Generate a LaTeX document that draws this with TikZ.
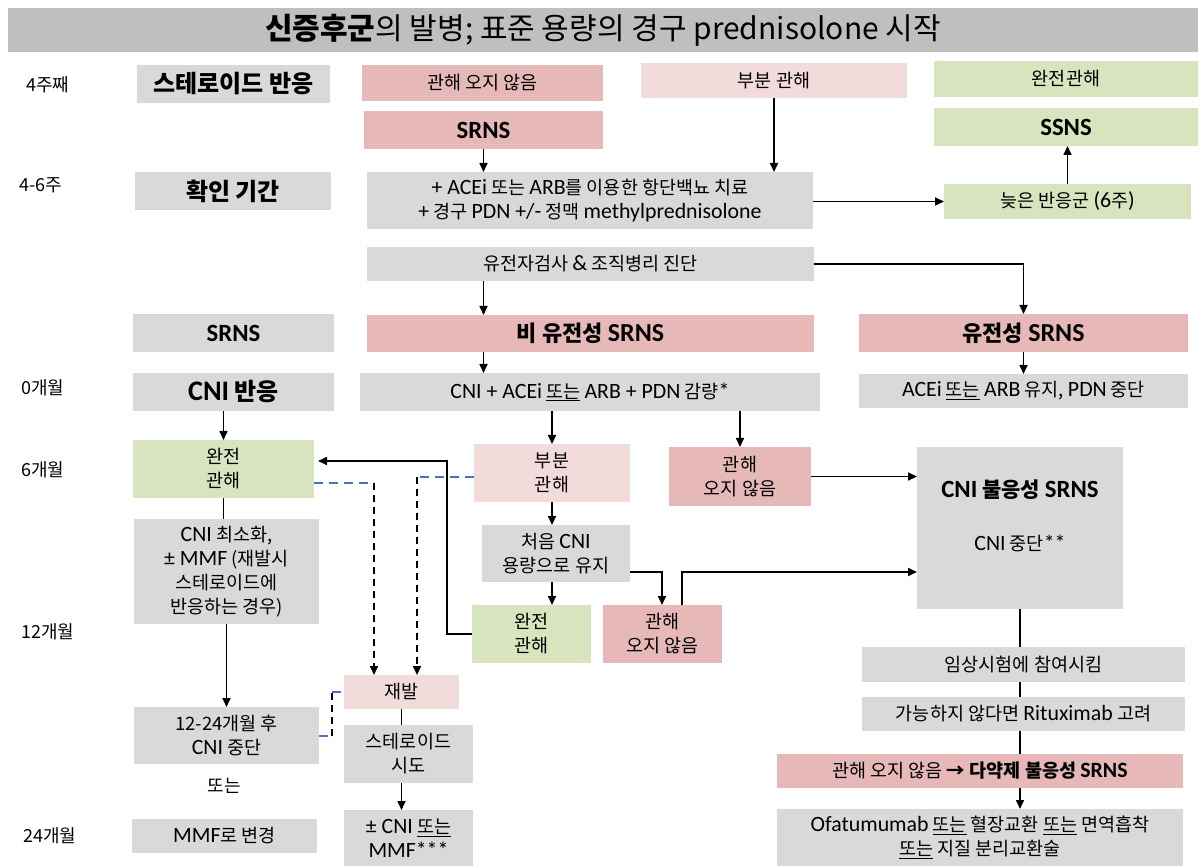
\documentclass[tikz,border=0pt]{standalone}
\usepackage{fontspec}
\usetikzlibrary{arrows.meta}
\setmainfont{Noto Sans CJK KR}
\newfontfamily\lfam[Scale=1.18]{Carlito}
\newcommand\latn[1]{{\lfam #1}}
\definecolor{cgray}{HTML}{D9D9D9}
\definecolor{cpink}{HTML}{E6B9B8}
\definecolor{clpink}{HTML}{F2DCDB}
\definecolor{cgreen}{HTML}{D7E4BD}
\definecolor{ctitle}{HTML}{BFBFBF}
\definecolor{cblue}{HTML}{4472C4}
\newcommand\bx[7]{\node[#2,minimum width={#5-#3},minimum height={#6-#4}] (#1) at ({(#3+#5)/2},{(#4+#6)/2}) {#7};}
\tikzset{
 base/.style={inner sep=0pt, outer sep=0pt, align=center, font=\fontsize{18.5}{24}\selectfont},
 gbox/.style={base, fill=cgray},
 pbox/.style={base, fill=cpink},
 lpbox/.style={base, fill=clpink},
 grbox/.style={base, fill=cgreen},
 tbox/.style={base, fill=ctitle, font=\fontsize{30}{34}\selectfont},
 big/.style={font=\fontsize{24}{28}\selectfont\bfseries},
 bld/.style={font=\fontsize{21}{24}\selectfont\bfseries},
 bldl/.style={font=\fontsize{22}{24}\selectfont\bfseries},
 lbl/.style={inner sep=0pt, font=\fontsize{18}{20}\selectfont},
 ln/.style={line width=1.6pt},
 arr/.style={ln, -{Triangle[length=9pt,width=8pt]}},
 dsh/.style={ln, dash pattern=on 7pt off 5pt},
 dsharr/.style={dsh, -{Triangle[length=9pt,width=8pt]}},
 bdsh/.style={ln, draw=cblue, dash pattern=on 9pt off 6pt},
}
\begin{document}
\begin{tikzpicture}[x=1pt,y=-1pt]
\useasboundingbox (0,0) rectangle (1200,866);
\bx{title}{tbox}{8}{8}{1198}{52}{\textbf{신증후군}의 발병; 표준 용량의 경구 prednisolone 시작}
% time labels
\node[lbl] (w4) at (48,85) {4주째};
\node[lbl] (w46) at (41,185) {4-6주};
\node[lbl] (m0) at (43,388) {0개월};
\node[lbl] (m6) at (43,470) {6개월};
\node[lbl] (m12) at (48,632) {12개월};
\node[lbl] (m24) at (50,836) {24개월};
% left column
\bx{sr}{gbox,big}{137}{65}{330}{103}{스테로이드 반응}
\bx{confirm}{gbox,big}{135}{172}{331}{210}{확인 기간}
\bx{srnsL}{gbox,bld}{133}{314}{334}{352}{\latn{SRNS}}
\bx{cniR}{gbox,big}{133}{373}{334}{411}{\latn{CNI} 반응}
\bx{crL}{grbox}{133}{440}{314}{498}{완전\\관해}
\bx{cnimin}{gbox}{134}{519}{319}{624}{\latn{CNI} 최소화,\\\latn{± MMF} (재발시\\스테로이드에\\반응하는 경우)}
\bx{stop}{gbox}{134}{707}{319}{764}{12-24개월 후\\\latn{CNI} 중단}
\node[lbl] (or1) at (224,786) {또는};
\bx{mmf}{gbox}{132}{819}{317}{853}{\latn{MMF}로 변경}
% top
\bx{nr1}{pbox}{362}{65}{603}{101}{관해 오지 않음}
\bx{srns1}{pbox,bld}{364}{111}{603}{149}{\latn{SRNS}}
\bx{pr1}{lpbox}{641}{63}{907}{98}{부분 관해}
\bx{cr1}{grbox}{934}{61}{1198}{97}{완전관해}
\bx{ssns}{grbox,bld}{934}{108}{1198}{146}{\latn{SSNS}}
\bx{treat}{gbox}{367}{172}{813}{229}{\latn{+ ACEi} 또는 \latn{ARB}를 이용한 항단백뇨 치료\\\latn{+} 경구 \latn{PDN +/-} 정맥 \latn{methylprednisolone}}
\bx{late}{grbox}{944}{184}{1191}{219}{늦은 반응군 \latn{(6}주\latn{)}}
\bx{gen}{gbox}{367}{247}{814}{281}{유전자검사 \latn{\&} 조직병리 진단}
\bx{ngen}{pbox,bldl}{367}{315}{814}{352}{비 유전성 \latn{SRNS}}
\bx{hgen}{pbox,bldl}{859}{314}{1188}{352}{유전성 \latn{SRNS}}
\bx{cni}{gbox}{360}{373}{820}{411}{\latn{CNI + ACEi} \underline{또는} \latn{ARB + PDN} 감량\latn{*}}
\bx{acei}{gbox}{859}{374}{1188}{408}{\latn{ACEi} \underline{또는} \latn{ARB} 유지, \latn{PDN} 중단}
% middle
\bx{pr2}{lpbox}{474}{444}{630}{502}{부분\\관해}
\bx{nr2}{pbox}{669}{447}{811}{506}{관해\\오지 않음}
\bx{cnires}{gbox}{917}{447}{1123}{609}{}
\node[base,bld] (cnit1) at (1020,490) {\latn{CNI} 불응성 \latn{SRNS}};
\node[base] (cnit2) at (1020,543) {\latn{CNI} 중단\latn{**}};
\bx{keep}{gbox}{482}{525}{630}{582}{처음 \latn{CNI}\\용량으로 유지}
\bx{cr2}{grbox}{472}{605}{591}{663}{완전\\관해}
\bx{nr3}{pbox}{603}{605}{722}{663}{관해\\오지 않음}
\bx{rel}{lpbox}{344}{675}{459}{709}{재발}
\bx{ster}{gbox}{344}{725}{473}{783}{스테로이드\\시도}
\bx{cnimmf}{gbox}{344}{810}{473}{866}{\latn{± CNI} \underline{또는}\\\latn{MMF***}}
% right bottom
\bx{trial}{gbox}{862}{647}{1185}{682}{임상시험에 참여시킴}
\bx{ritux}{gbox}{862}{697}{1185}{731}{가능하지 않다면 \latn{Rituximab} 고려}
\bx{multi}{pbox}{777}{754}{1183}{788}{관해 오지 않음 \textbf{→ 다약제 불응성 \latn{SRNS}}}
\bx{ofa}{gbox}{777}{809}{1183}{866}{\latn{Ofatumumab} \underline{또는} 혈장교환 \underline{또는} 면역흡착\\\underline{또는} 지질 분리교환술}
% helper coordinates
\coordinate (k1) at (662,572);
\coordinate (k2) at (682,572);
\coordinate (k3) at (447,461);
\coordinate (d1) at (374,483);
\coordinate (d2) at (417,477);
\coordinate (d3) at (332,736);
\coordinate (d4) at (332,692);
% connectors
\draw[arr] (srns1.south) -- (srns1.south |- treat.north);
\draw[arr] (pr1.south) -- (pr1.south |- treat.north);
\draw[arr] (treat.east |- late.west) -- (late.west);
\draw[arr] (late.north) -- (late.north |- ssns.south);
\draw[arr] (gen.south -| srns1.south) -- (ngen.north -| srns1.south);
\draw[arr] (gen.east) -| (hgen.north);
\draw[arr] (ngen.south -| srns1.south) -- (cni.north -| srns1.south);
\draw[arr] (hgen.south) -- (acei.north);
\draw[arr] (cni.south -| pr2.north) -- (pr2.north);
\draw[arr] (cni.south -| nr2.north) -- (nr2.north);
\draw[arr] (cniR.south -| crL.north) -- (crL.north);
\draw[arr] (nr2.east) -- (nr2.east -| cnires.west);
\draw[arr] (pr2.south) -- (pr2.south |- keep.north);
\draw[arr] (keep.south -| pr2.south) -- (cr2.north -| pr2.south);
\draw[arr] (keep.east |- k1) -- (k1) -- (k1 |- nr3.north);
\draw[arr] (k2 |- nr3.north) -- (k2) -- (k2 -| cnires.west);
\draw[arr, shorten >=4pt] (cr2.west) -| (k3) -- (k3 -| crL.east);
\draw[bdsh] (crL.east |- d1) -- (d1);
\draw[dsharr] (d1) -- (d1 |- rel.north);
\draw[bdsh] (pr2.west |- d2) -- (d2);
\draw[dsharr] (d2) -- (d2 |- rel.north);
\draw[ln] (crL.south) -- (crL.south |- cnimin.north);
\draw[arr] (cnimin.south) -- (cnimin.south |- stop.north);
\draw[bdsh] (stop.east |- d3) -- (d3);
\draw[dsh] (d3) -- (d4);
\draw[bdsh] (d4) -- (d4 -| rel.west);
\draw[ln] (rel.south) -- (rel.south |- ster.north);
\draw[arr] (rel.south |- ster.south) -- (rel.south |- cnimmf.north);
\draw[ln] (cnires.south) -- (cnires.south |- trial.north);
\draw[ln] (cnires.south |- trial.south) -- (cnires.south |- ritux.north);
\draw[ln] (cnires.south |- ritux.south) -- (cnires.south |- multi.north);
\draw[arr] (cnires.south |- multi.south) -- (cnires.south |- ofa.north);
\end{tikzpicture}
\end{document}
